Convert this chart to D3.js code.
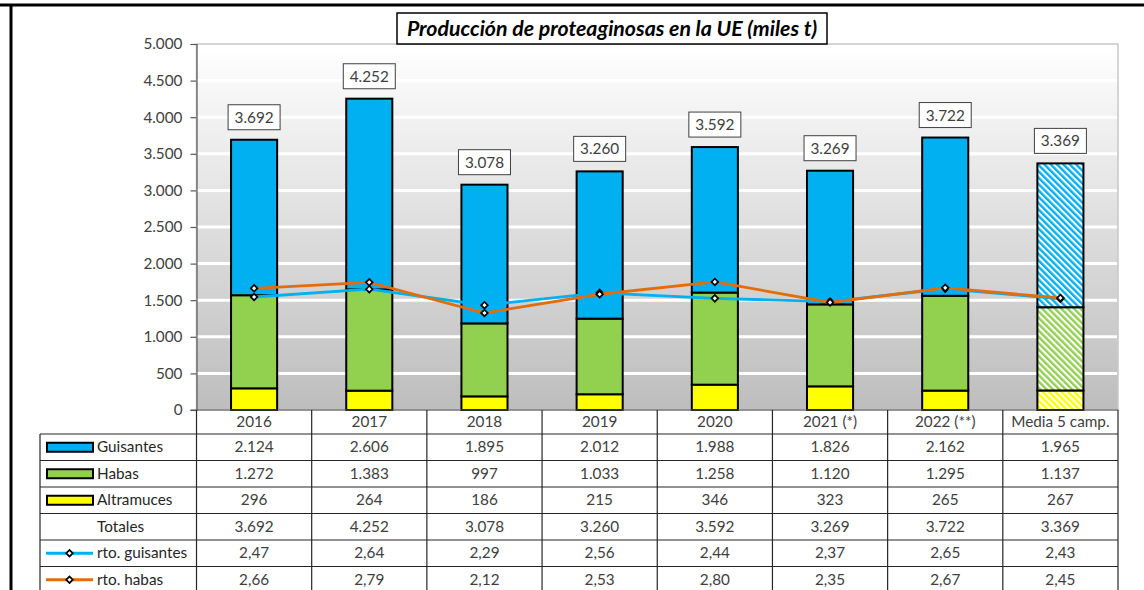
<!DOCTYPE html>
<html>
<head>
<meta charset="utf-8">
<script src="https://cdn.jsdelivr.net/npm/d3@7"></script>
<style>
  body { margin: 0; background: #fff; }
  svg { display: block; font-family: Lato, "Open Sans", sans-serif; }
</style>
</head>
<body>
<div id="chart"></div>
<script>
// data
var categories = ["2016", "2017", "2018", "2019", "2020", "2021 (*)", "2022 (**)", "Media 5 camp."]
var guisantes = [2124, 2606, 1895, 2012, 1988, 1826, 2162, 1965]
var habas = [1272, 1383, 997, 1033, 1258, 1120, 1295, 1137]
var altramuces = [296, 264, 186, 215, 346, 323, 265, 267]
var totales = [3692, 4252, 3078, 3260, 3592, 3269, 3722, 3369]
var rtoGuisantes = [2.47, 2.64, 2.29, 2.56, 2.44, 2.37, 2.65, 2.43]
var rtoHabas = [2.66, 2.79, 2.12, 2.53, 2.80, 2.35, 2.67, 2.45]
var yTicks = [0, 500, 1000, 1500, 2000, 2500, 3000, 3500, 4000, 4500, 5000]

var W = 1144, H = 590
var plot = {left: 196.5, right: 1118, top: 44, bottom: 410}
var colors = {guis: "#00b0f0", habas: "#92d050", altr: "#ffff00", rtoG: "#00b0f0", rtoH: "#e46c0a"}
var fs = "15.3px"

var es = d3.formatLocale({decimal: ",", thousands: ".", grouping: [3], currency: ["", " €"]})
var fmtInt = es.format(",d")
var fmtDec = es.format(".2f")

var svg = d3.select("#chart").append("svg")
  .attr("width", W).attr("height", H)

var defs = svg.append("defs")
var grad = defs.append("linearGradient").attr("id", "bg")
  .attr("x1", 0).attr("y1", 0).attr("x2", 0).attr("y2", 1)
grad.append("stop").attr("offset", "0%").attr("stop-color", "#ffffff")
grad.append("stop").attr("offset", "100%").attr("stop-color", "#bdbdbd")

function hatch(id, col) {
  var p = defs.append("pattern").attr("id", id)
    .attr("patternUnits", "userSpaceOnUse")
    .attr("width", 4.5).attr("height", 4.5)
    .attr("patternTransform", "rotate(-45)")
  p.append("rect").attr("width", 4.5).attr("height", 4.5).attr("fill", "#fff")
  p.append("rect").attr("width", 2.4).attr("height", 4.5).attr("fill", col)
}
hatch("hG", colors.guis)
hatch("hH", colors.habas)
hatch("hA", colors.altr)

var x = d3.scaleBand().domain(categories).range([plot.left, plot.right])
var y = d3.scaleLinear().domain([0, 5000]).range([plot.bottom, plot.top])
var y2 = d3.scaleLinear().domain([0, 8]).range([plot.bottom, plot.top])

// outer frame (cropped)
svg.append("line").attr("x1", 0).attr("x2", W).attr("y1", 5).attr("y2", 5)
  .attr("stroke", "#000").attr("stroke-width", 3)
svg.append("line").attr("x1", 11).attr("x2", 11).attr("y1", 5).attr("y2", H)
  .attr("stroke", "#000").attr("stroke-width", 3)

// plot area
svg.append("rect")
  .attr("x", plot.left).attr("y", plot.top)
  .attr("width", plot.right - plot.left).attr("height", plot.bottom - plot.top)
  .attr("fill", "url(#bg)").attr("stroke", "#c8c8c8").attr("stroke-width", 1.5)

svg.append("g").selectAll("line")
  .data(yTicks.filter(function(d) { return d > 0 && d < 5000 }))
  .enter().append("line")
  .attr("x1", plot.left).attr("x2", plot.right - 1)
  .attr("y1", function(d) { return y(d) }).attr("y2", function(d) { return y(d) })
  .attr("stroke", "#fff").attr("stroke-width", 3)

var yAxis = svg.append("g")
  .attr("transform", "translate(" + plot.left + ",0)")
  .call(d3.axisLeft(y).tickValues(yTicks).tickSize(6).tickPadding(8).tickFormat(fmtInt))
yAxis.select(".domain").attr("stroke", "#595959").attr("stroke-width", 1.2)
yAxis.selectAll(".tick line").attr("stroke", "#595959").attr("stroke-width", 1.2)
yAxis.selectAll("text").attr("fill", "#404040").style("font-size", fs)
  .style("font-family", "Lato, sans-serif")

// stacked bars
var series = [
  {key: "altr", vals: altramuces, pat: "url(#hA)"},
  {key: "habas", vals: habas, pat: "url(#hH)"},
  {key: "guis", vals: guisantes, pat: "url(#hG)"}
]
var bw = x.bandwidth() * 0.4
var barsG = svg.append("g")
var last = categories.length - 1
series.forEach(function(s, si) {
  barsG.selectAll(".b" + si)
    .data(categories)
    .enter().append("rect")
    .attr("x", function(c) { return x(c) + (x.bandwidth() - bw) / 2 })
    .attr("width", bw)
    .attr("y", function(c, i) {
      var base = 0
      for (var k = 0; k <= si; k++) base += series[k].vals[i]
      return y(base)
    })
    .attr("height", function(c, i) { return y(0) - y(s.vals[i]) })
    .attr("fill", function(c, i) { return i === last ? s.pat : colors[s.key] })
    .attr("stroke", "#000").attr("stroke-width", 2)
})

// x axis line
svg.append("line").attr("x1", plot.left - 6).attr("x2", plot.right)
  .attr("y1", plot.bottom).attr("y2", plot.bottom)
  .attr("stroke", "#595959").attr("stroke-width", 1.2)

// total labels
var lab = svg.append("g").selectAll("g").data(categories).enter().append("g")
  .attr("transform", function(c, i) {
    return "translate(" + (x(c) + x.bandwidth() / 2) + "," + (y(totales[i]) - 10) + ")"
  })
lab.append("rect").attr("x", -26).attr("y", -25).attr("width", 52).attr("height", 25)
  .attr("fill", "#fff").attr("stroke", "#404040").attr("stroke-width", 1)
lab.append("text").attr("y", -7).attr("text-anchor", "middle")
  .attr("fill", "#404040").style("font-size", fs)
  .text(function(c, i) { return fmtInt(totales[i]) })

// yield lines on hidden secondary axis
var diamond = d3.symbol().type(d3.symbolSquare).size(22)
function drawLine(vals, col) {
  var g = svg.append("g")
  var line = d3.line()
    .x(function(d, i) { return x(categories[i]) + x.bandwidth() / 2 })
    .y(function(d) { return y2(d) })
  g.append("path").datum(vals).attr("d", line)
    .attr("fill", "none").attr("stroke", col).attr("stroke-width", 2.8)
  g.selectAll("path.m").data(vals).enter().append("path").attr("class", "m")
    .attr("d", diamond)
    .attr("transform", function(d, i) {
      return "translate(" + (x(categories[i]) + x.bandwidth() / 2) + "," + y2(d) + ") rotate(45)"
    })
    .attr("fill", "#fff").attr("stroke", "#000").attr("stroke-width", 1.7)
}
drawLine(rtoGuisantes, colors.rtoG)
drawLine(rtoHabas, colors.rtoH)

// title
svg.append("rect").attr("x", 397).attr("y", 13).attr("width", 430).attr("height", 31)
  .attr("fill", "#fff").attr("stroke", "#000").attr("stroke-width", 1.5)
svg.append("text").attr("x", 612).attr("y", 35.5).attr("text-anchor", "middle")
  .style("font-size", "21.3px").style("font-weight", "bold").style("font-style", "italic")
  .attr("fill", "#000")
  .text("Producción de proteaginosas en la UE (miles t)")

// data table
var rows = [
  {name: "Guisantes", vals: guisantes, f: fmtInt, sym: "rect", col: colors.guis},
  {name: "Habas", vals: habas, f: fmtInt, sym: "rect", col: colors.habas},
  {name: "Altramuces", vals: altramuces, f: fmtInt, sym: "rect", col: colors.altr},
  {name: "Totales", vals: totales, f: fmtInt, sym: null},
  {name: "rto. guisantes", vals: rtoGuisantes, f: fmtDec, sym: "line", col: colors.rtoG},
  {name: "rto. habas", vals: rtoHabas, f: fmtDec, sym: "line", col: colors.rtoH}
]
var headH = 24, rowH = 26.5
var tLeft = 40
var tbl = svg.append("g")
var tableBottom = plot.bottom + headH + rows.length * rowH

// header labels
tbl.selectAll("text.h").data(categories).enter().append("text").attr("class", "h")
  .attr("x", function(c) { return x(c) + x.bandwidth() / 2 })
  .attr("y", plot.bottom + 17)
  .attr("text-anchor", "middle").attr("fill", "#404040").style("font-size", fs)
  .text(function(c) { return c })

// horizontal rules
d3.range(rows.length + 1).forEach(function(r) {
  var yy = plot.bottom + headH + r * rowH
  tbl.append("line").attr("x1", tLeft).attr("x2", plot.right)
    .attr("y1", yy).attr("y2", yy).attr("stroke", "#262626").attr("stroke-width", 1.2)
})
// vertical rules
categories.forEach(function(c) {
  tbl.append("line").attr("x1", x(c)).attr("x2", x(c))
    .attr("y1", plot.bottom).attr("y2", tableBottom)
    .attr("stroke", "#262626").attr("stroke-width", 1.2)
})
tbl.append("line").attr("x1", plot.right).attr("x2", plot.right)
  .attr("y1", plot.bottom).attr("y2", tableBottom).attr("stroke", "#262626").attr("stroke-width", 1.2)
tbl.append("line").attr("x1", tLeft).attr("x2", tLeft)
  .attr("y1", plot.bottom + headH).attr("y2", tableBottom).attr("stroke", "#262626").attr("stroke-width", 1.2)

rows.forEach(function(row, r) {
  var top = plot.bottom + headH + r * rowH
  var mid = top + rowH / 2
  if (row.sym === "rect") {
    tbl.append("rect").attr("x", 47).attr("y", mid - 4.5).attr("width", 46).attr("height", 9)
      .attr("fill", row.col).attr("stroke", "#000").attr("stroke-width", 2)
  } else if (row.sym === "line") {
    tbl.append("line").attr("x1", 46).attr("x2", 93).attr("y1", mid).attr("y2", mid)
      .attr("stroke", row.col).attr("stroke-width", 2.8)
    tbl.append("path").attr("d", diamond)
      .attr("transform", "translate(69.5," + mid + ") rotate(45)")
      .attr("fill", "#fff").attr("stroke", "#000").attr("stroke-width", 1.7)
  }
  tbl.append("text").attr("x", 97).attr("y", mid + 5)
    .attr("fill", "#262626").style("font-size", fs).text(row.name)
  tbl.selectAll(null).data(row.vals).enter().append("text")
    .attr("x", function(d, i) { return x(categories[i]) + x.bandwidth() / 2 })
    .attr("y", mid + 5).attr("text-anchor", "middle")
    .attr("fill", "#404040").style("font-size", fs)
    .text(function(d) { return row.f(d) })
})
</script>
</body>
</html>
